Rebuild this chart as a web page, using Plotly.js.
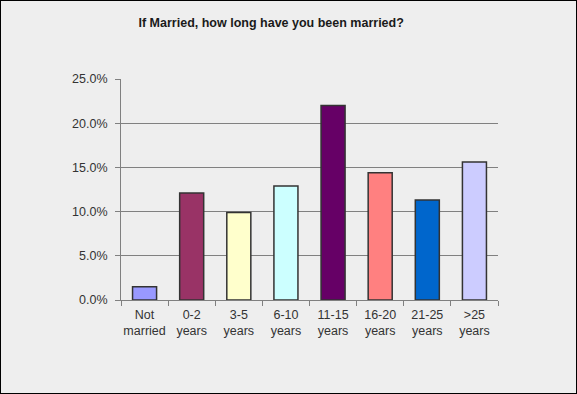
<!DOCTYPE html>
<html>
<head>
<meta charset="utf-8">
<script src="https://cdn.plot.ly/plotly-3.0.1.min.js"></script>
<style>
html,body{margin:0;padding:0;background:#eeeeee;}
#wrap{position:relative;width:577px;height:394px;}
#chart{width:577px;height:394px;}
#frame{position:absolute;left:0;top:0;width:577px;height:394px;box-sizing:border-box;border:1px solid #000;pointer-events:none;}
</style>
</head>
<body>
<div id="wrap"><div id="chart"></div><div id="frame"></div></div>
<script>
const categories = ["Not<br>married", "0-2<br>years", "3-5<br>years", "6-10<br>years", "11-15<br>years", "16-20<br>years", "21-25<br>years", ">25<br>years"];
const values = [1.5, 12.1, 9.9, 12.9, 22.0, 14.4, 11.3, 15.6];
const barColors = ["#9999FF", "#993366", "#FFFFCC", "#CCFFFF", "#660066", "#FF8080", "#0066CC", "#CCCCFF"];
const yTicks = [0, 5, 10, 15, 20, 25];
const yTickText = ["0.0%", "5.0%", "10.0%", "15.0%", "20.0%", "25.0%"];

Plotly.newPlot("chart", [{
  type: "bar",
  x: categories,
  y: values,
  marker: {color: barColors, line: {color: "#333333", width: 1.5}},
  width: 0.51,
  hoverinfo: "none"
}], {
  width: 577, height: 394,
  paper_bgcolor: "#eeeeee",
  plot_bgcolor: "#eeeeee",
  margin: {l: 121, r: 79, t: 78.5, b: 94, pad: 0},
  showlegend: false,
  font: {family: "Liberation Sans, Arial, sans-serif", size: 12.5, color: "#333333"},
  title: {
    text: "<b>If Married, how long have you been married?</b>",
    font: {family: "Liberation Sans, Arial, sans-serif", size: 12.5, color: "#1a1a1a"},
    x: 0.47, xanchor: "center", xref: "container",
    y: 0.943, yanchor: "middle", yref: "container"
  },
  xaxis: {
    type: "category",
    showline: true, linecolor: "#808080", linewidth: 1,
    ticks: "outside", tickson: "boundaries", ticklen: 5, tickcolor: "#808080",
    tickangle: 0,
    ticklabelstandoff: 3,
    showgrid: false,
    tickfont: {size: 12.5, color: "#333333"}
  },
  yaxis: {
    range: [0, 25],
    tickvals: yTicks, ticktext: yTickText,
    showline: true, linecolor: "#808080", linewidth: 1,
    ticks: "outside", ticklen: 5, tickcolor: "#808080",
    ticklabelstandoff: 5,
    showgrid: true, gridcolor: "#808080", gridwidth: 1,
    zeroline: false,
    tickfont: {size: 12.5, color: "#333333"}
  }
}, {displayModeBar: false, staticPlot: true});
</script>
</body>
</html>
